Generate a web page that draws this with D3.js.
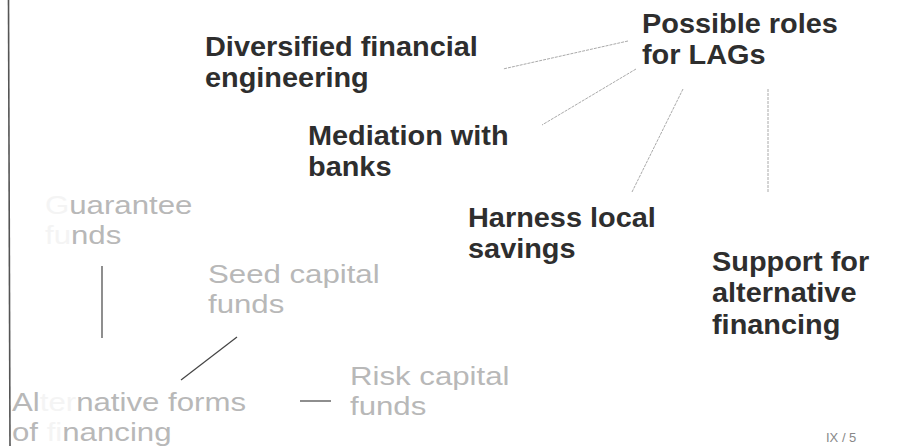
<!DOCTYPE html>
<html>
  <head>
    <title>Possible roles for LAGs</title>
    <script src="https://d3js.org/d3.v7.min.js"></script>
    <style>
      body { margin: 0; background: #fff; }
      text { font-family: "Liberation Sans", Arial, sans-serif; }
    </style>
  </head>

  <body>
    <svg width="899" height="446"></svg>

    <script type="text/javascript">
    var width = 899;
    var height = 446;

    // labels of the diagram (one entry per text block, lines split)
    var roleLabels = [
      ["Possible roles", "for LAGs"],
      ["Diversified financial", "engineering"],
      ["Mediation with", "banks"],
      ["Harness local", "savings"],
      ["Support for", "alternative", "financing"]
    ];
    var fundLabels = [
      ["Guarantee", "funds"],
      ["Seed capital", "funds"],
      ["Alternative forms", "of financing"],
      ["Risk capital", "funds"]
    ];
    // letters lost in the scan: [block, line, start, end]
    var fadedChars = [[0, 0, 0, 1], [0, 1, 0, 2], [2, 0, 2, 5], [2, 1, 3, 5]];

    // anchor of every text block, in slide units
    var roleAnchor = [[642, 33], [205, 56], [308, 145], [468, 227], [712, 271]];
    var fundAnchor = [[45, 214], [208, 283], [12, 411], [350, 385]];

    // connectors [x1, y1, x2, y2]
    var roleLinks = [[628, 41, 503, 69], [636, 69, 542, 125], [683, 89, 632, 192], [768, 89, 768, 192]];
    var fundLinks = [[102, 266, 102, 338], [237, 337, 181, 380], [300, 401, 331, 401]];

    var pageLabel = "IX / 5";

    var x = d3.scaleLinear().domain([0, 899]).range([0, width]);
    var y = d3.scaleLinear().domain([0, 446]).range([0, height]);

    var svg = d3.select("svg");

    // left frame edge
    svg.append("line")
      .attr("x1", x(8.5)).attr("y1", y(0))
      .attr("x2", x(10)).attr("y2", y(446))
      .attr("stroke", "#555").attr("stroke-width", 1.6);

    svg.selectAll(".roleLink")
      .data(roleLinks)
      .enter().append("line")
        .attr("class", "roleLink")
        .attr("x1", function(d) { return x(d[0]); })
        .attr("y1", function(d) { return y(d[1]); })
        .attr("x2", function(d) { return x(d[2]); })
        .attr("y2", function(d) { return y(d[3]); })
        .attr("stroke", "#aaa")
        .attr("stroke-width", 1)
        .attr("stroke-dasharray", "3,1");

    svg.selectAll(".fundLink")
      .data(fundLinks)
      .enter().append("line")
        .attr("class", "fundLink")
        .attr("x1", function(d) { return x(d[0]); })
        .attr("y1", function(d) { return y(d[1]); })
        .attr("x2", function(d) { return x(d[2]); })
        .attr("y2", function(d) { return y(d[3]); })
        .attr("stroke", "#444")
        .attr("stroke-width", 1.2);

    // bold role texts
    var roles = svg.selectAll(".role")
      .data(roleLabels)
      .enter().append("text")
        .attr("class", "role")
        .attr("transform", function(d, i) {
          return "translate(" + x(roleAnchor[i][0]) + "," + y(roleAnchor[i][1]) + ") scale(1.07,1)";
        })
        .attr("font-size", 27)
        .attr("font-weight", "bold")
        .attr("fill", "#2e2e2e");

    roles.selectAll("tspan")
      .data(function(d) { return d; })
      .enter().append("tspan")
        .attr("x", 0)
        .attr("y", function(d, i) { return i * 31.5; })
        .text(function(d) { return d; });

    // light fund texts
    var funds = svg.selectAll(".fund")
      .data(fundLabels)
      .enter().append("text")
        .attr("class", "fund")
        .attr("transform", function(d, i) {
          return "translate(" + x(fundAnchor[i][0]) + "," + y(fundAnchor[i][1]) + ") scale(1.2,1)";
        })
        .attr("font-size", 26)
        .attr("fill", "#b8b8b8");

    funds.each(function(lines, b) {
      var t = d3.select(this);
      lines.forEach(function(line, l) {
        var fade = fadedChars.filter(function(f) { return f[0] === b && f[1] === l; })[0];
        var parts = fade
          ? [[line.slice(0, fade[2]), 0], [line.slice(fade[2], fade[3]), 1], [line.slice(fade[3]), 0]]
          : [[line, 0]];
        parts = parts.filter(function(p) { return p[0].length > 0; });
        parts.forEach(function(p, k) {
          var ts = t.append("tspan")
            .attr("fill", p[1] ? "#f4f4f4" : null)
            .text(p[0]);
          if (k === 0) ts.attr("x", 0).attr("y", l * 30.5);
        });
      });
    });

    svg.append("text")
      .attr("x", x(826))
      .attr("y", y(442))
      .attr("font-size", 13)
      .attr("fill", "#888")
      .text(pageLabel);
    </script>
  </body>
</html>
